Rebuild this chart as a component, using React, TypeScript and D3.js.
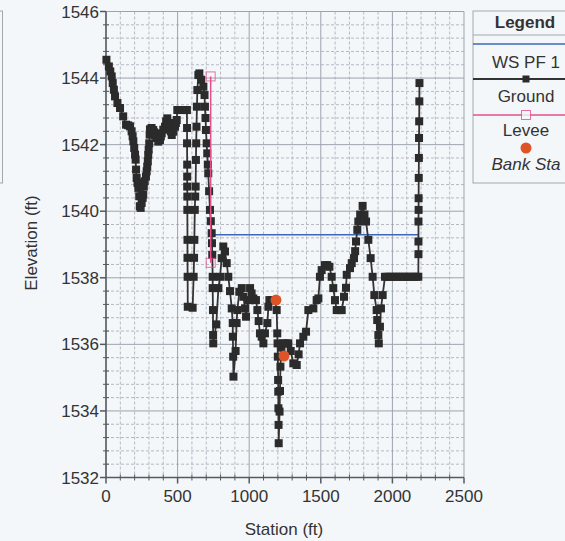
import React from "react";
import * as d3 from "d3";

// Cross section: station (ft) and ground elevation (ft)
const groundStation = [
  3, 20, 30, 40, 47, 55, 63, 80, 98, 120, 140, 155, 168, 179, 186, 191, 197, 203, 207, 210, 214, 220, 226, 232, 236, 242,
  249, 256, 260, 264, 270, 279, 284, 288, 292, 295, 298, 302, 305, 307, 318, 330, 336, 342, 352, 365, 377, 383, 389, 400,
  412, 420, 428, 437, 447, 453, 459, 470, 482, 488, 494, 498, 512, 528, 545, 560, 565, 566, 566, 567, 567, 567, 568, 568,
  569, 569, 570, 571, 605, 612, 615, 617, 620, 623, 626, 628, 630, 632, 635, 638, 645, 652, 665, 680, 688, 691, 695, 698,
  703, 707, 711, 714, 720, 726, 732, 738, 740, 742, 745, 745, 747, 748, 749, 770, 785, 796, 808, 819, 831, 843, 854, 866,
  878, 885, 886, 888, 890, 905, 912, 917, 931, 948, 959, 971, 978, 994, 1006, 1017, 1029, 1047, 1057, 1066, 1075, 1087,
  1099, 1110, 1127, 1134, 1141, 1160, 1180, 1192, 1196, 1198, 1200, 1202, 1203, 1204, 1205, 1206, 1212, 1215, 1218, 1225,
  1238, 1255, 1273, 1290, 1308, 1332, 1345, 1355, 1378, 1397, 1413, 1448, 1471, 1483, 1494, 1506, 1529, 1545, 1560, 1576,
  1587, 1599, 1611, 1634, 1646, 1662, 1676, 1681, 1704, 1716, 1732, 1740, 1746, 1755, 1762, 1775, 1792, 1805, 1816, 1832,
  1848, 1862, 1874, 1890, 1894, 1902, 1905, 1913, 1920, 1932, 1948, 1965, 1985, 2005, 2025, 2045, 2065, 2085, 2105, 2125,
  2145, 2165, 2181, 2182, 2182, 2182, 2183, 2183, 2184, 2185, 2186, 2187, 2188, 2189,
];
const groundElevation = [
  1544.55, 1544.35, 1544.2, 1544.05, 1543.85, 1543.65, 1543.45, 1543.25, 1543.1, 1542.85, 1542.6, 1542.58, 1542.55,
  1542.4, 1542.25, 1542.1, 1541.9, 1541.7, 1541.55, 1541.25, 1541.0, 1540.85, 1540.7, 1540.45, 1540.15, 1540.1,
  1540.25, 1540.4, 1540.5, 1540.74, 1540.9, 1541.04, 1541.2, 1541.34, 1541.5, 1541.69, 1541.85, 1542.04, 1542.3,
  1542.46, 1542.5, 1542.44, 1542.37, 1542.29, 1542.2, 1542.09, 1542.14, 1542.25, 1542.34, 1542.45, 1542.54, 1542.7,
  1542.79, 1542.65, 1542.54, 1542.4, 1542.29, 1542.39, 1542.54, 1542.65, 1542.74, 1543.04, 1543.04, 1543.04, 1543.04,
  1543.04, 1543.04, 1542.5, 1542.04, 1541.4, 1541.04, 1540.74, 1540.44, 1540.04, 1539.14, 1538.6, 1538.03, 1537.13,
  1537.1, 1538.03, 1538.6, 1539.14, 1540.04, 1540.44, 1540.74, 1541.54, 1542.04, 1542.54, 1543.14, 1543.64, 1544.09,
  1544.14, 1543.95, 1543.74, 1543.49, 1543.14, 1542.8, 1542.44, 1542.04, 1541.74, 1541.4, 1541.14, 1540.6, 1540.04,
  1539.7, 1539.34, 1539.04, 1538.69, 1538.03, 1537.69, 1537.03, 1536.28, 1536.03, 1536.6, 1537.69, 1538.03, 1538.59,
  1538.94, 1538.79, 1538.44, 1538.03, 1537.6, 1537.08, 1536.64, 1536.23, 1535.63, 1535.03, 1535.8, 1536.64, 1537.03,
  1537.58, 1537.69, 1537.43, 1537.08, 1536.83, 1537.33, 1537.69, 1537.53, 1537.38, 1537.33, 1537.03, 1536.7, 1536.33,
  1536.23, 1536.03, 1536.33, 1536.64, 1537.13, 1537.33, 1537.33, 1537.33, 1537.03, 1536.33, 1536.03, 1535.63, 1534.93,
  1534.58, 1534.08, 1533.58, 1533.03, 1533.98, 1534.6, 1535.33, 1535.9, 1536.03, 1536.03, 1536.03, 1535.8, 1535.43,
  1535.38, 1535.7, 1536.03, 1536.23, 1536.38, 1537.03, 1537.08, 1537.33, 1537.38, 1538.03, 1538.23, 1538.38, 1538.38,
  1538.33, 1538.03, 1537.69, 1537.33, 1537.03, 1537.03, 1537.03, 1537.43, 1537.7, 1538.09, 1538.29, 1538.44, 1538.59,
  1538.8, 1539.09, 1539.44, 1539.69, 1539.9, 1540.16, 1539.9, 1539.69, 1539.14, 1538.59, 1538.03, 1537.48, 1537.03,
  1536.73, 1536.28, 1536.03, 1536.53, 1537.08, 1537.48, 1538.03, 1538.03, 1538.03, 1538.03, 1538.03, 1538.03, 1538.03,
  1538.03, 1538.03, 1538.03, 1538.03, 1538.03, 1538.03, 1538.71, 1539.09, 1539.69, 1540.04, 1540.39, 1541.0, 1541.6,
  1542.2, 1542.7, 1543.3, 1543.85,
];

// Water surface, profile PF 1
const wsStation = [735, 2181];
const wsElevation = [1539.29, 1539.29];

// Left levee
const leveeStation = [731, 731];
const leveeElevation = [1538.45, 1544.05];

// Bank stations
const bankStation = [1187, 1243];
const bankElevation = [1537.33, 1535.65];

const xTicks = [0, 500, 1000, 1500, 2000, 2500];
const yTicks = [1532, 1534, 1536, 1538, 1540, 1542, 1544, 1546];

const legendLabels = ["WS PF 1", "Ground", "Levee", "Bank Sta"];

const FONT = "'Liberation Sans', Arial, Helvetica, sans-serif";
const BG = "#f4f7fa";
const INK = "#333333";
const WS_BLUE = "#3d68b8";
const LEVEE_PINK = "#e2508e";
const BANK_ORANGE = "#de5427";
const MAJOR_GRID = "#9da3ad";
const MINOR_GRID = "#b4b9c2";
const MARK = 8;

export default function App() {
  const width = 565;
  const height = 541;

  const x = d3.scaleLinear().domain([0, 2500]).range([106, 464]);
  const y = d3.scaleLinear().domain([1532, 1546]).range([477.5, 11.5]);

  const ground = groundStation.map((s, i) => [s, groundElevation[i]] as [number, number]);
  const ws = wsStation.map((s, i) => [s, wsElevation[i]] as [number, number]);
  const levee = leveeStation.map((s, i) => [s, leveeElevation[i]] as [number, number]);
  const bank = bankStation.map((s, i) => [s, bankElevation[i]] as [number, number]);

  const line = d3
    .line<[number, number]>()
    .x((d) => x(d[0]))
    .y((d) => y(d[1]));

  const xMinor = d3.range(0, 2501, 100).filter((v) => v % 500 !== 0);
  const yMinor = d3
    .range(0, 35)
    .map((i) => 1532 + i * 0.4)
    .filter((v) => Math.abs(v - Math.round(v / 2) * 2) > 0.01 && v < 1546);
  const [x0, x1] = x.range();
  const [yb, yt] = y.range();

  const legendX = 473;
  const legendCx = 526;
  const legendRows = [44, 79, 115, 148];

  return (
    <svg
      width={width}
      height={height}
      style={{ position: "absolute", left: 0, top: 0, background: BG }}
      fontFamily={FONT}
    >
      <rect x={0} y={0} width={width} height={height} fill={BG} />

      {/* neighbouring panel edge */}
      <rect x={-20} y={11} width={22.5} height={172} fill="none" stroke="#a3a7ad" strokeWidth={1} />

      {/* minor grid */}
      <g stroke={MINOR_GRID} strokeWidth={1} strokeDasharray="3,2">
        {xMinor.map((v) => (
          <line key={"xm" + v} x1={x(v)} x2={x(v)} y1={yt} y2={yb} />
        ))}
        {yMinor.map((v) => (
          <line key={"ym" + v} x1={x0} x2={x1} y1={y(v)} y2={y(v)} />
        ))}
      </g>

      {/* major grid */}
      <g stroke={MAJOR_GRID} strokeWidth={1}>
        {xTicks.map((v) => (
          <line key={"xg" + v} x1={x(v)} x2={x(v)} y1={yt} y2={yb} />
        ))}
        {yTicks.map((v) => (
          <line key={"yg" + v} x1={x0} x2={x1} y1={y(v)} y2={y(v)} />
        ))}
      </g>

      {/* axes */}
      <g stroke="#555a61" strokeWidth={1.5}>
        <line x1={x0} x2={x0} y1={yt} y2={yb} />
        <line x1={x0} x2={x1} y1={yb} y2={yb} />
        {yTicks.map((v) => (
          <line key={"yt" + v} x1={x0 - 6} x2={x0} y1={y(v)} y2={y(v)} />
        ))}
        {xTicks.map((v) => (
          <line key={"xt" + v} x1={x(v)} x2={x(v)} y1={yb} y2={yb + 6} />
        ))}
      </g>
      <g stroke="#555a61" strokeWidth={1}>
        {yMinor.map((v) => (
          <line key={"ytm" + v} x1={x0 - 3} x2={x0 + 3} y1={y(v)} y2={y(v)} />
        ))}
        {xMinor.map((v) => (
          <line key={"xtm" + v} x1={x(v)} x2={x(v)} y1={yb - 3} y2={yb + 3} />
        ))}
      </g>

      {/* tick labels */}
      <g fill={INK} fontSize={17}>
        {yTicks.map((v) => (
          <text key={"yl" + v} x={99} y={y(v) + 6} textAnchor="end">
            {v}
          </text>
        ))}
        {xTicks.map((v) => (
          <text key={"xl" + v} x={x(v)} y={502} textAnchor="middle">
            {v}
          </text>
        ))}
      </g>

      {/* axis titles */}
      <text x={284} y={535} textAnchor="middle" fontSize={17} fill={INK}>
        Station (ft)
      </text>
      <text transform={`translate(37,243) rotate(-90)`} textAnchor="middle" fontSize={17} fill={INK}>
        Elevation (ft)
      </text>

      {/* water surface */}
      <path d={line(ws) || ""} fill="none" stroke={WS_BLUE} strokeWidth={1.5} />

      {/* ground */}
      <path d={line(ground) || ""} fill="none" stroke={INK} strokeWidth={1.8} />
      <g fill="#2b2b2b">
        {ground.map((d, i) => (
          <rect key={"g" + i} x={x(d[0]) - MARK / 2} y={y(d[1]) - MARK / 2} width={MARK} height={MARK} />
        ))}
      </g>

      {/* levee */}
      <path d={line(levee) || ""} fill="none" stroke={LEVEE_PINK} strokeWidth={1.5} />
      {levee.map((d, i) => (
        <rect
          key={"l" + i}
          x={x(d[0]) - 4.5}
          y={y(d[1]) - 4.5}
          width={9}
          height={9}
          fill="none"
          stroke={LEVEE_PINK}
          strokeWidth={1}
          opacity={0.8}
        />
      ))}

      {/* bank stations */}
      {bank.map((d, i) => (
        <circle key={"b" + i} cx={x(d[0])} cy={y(d[1])} r={5.5} fill={BANK_ORANGE} />
      ))}

      {/* legend */}
      <g>
        <rect x={legendX} y={11} width={120} height={172} fill={BG} stroke="#a3a7ad" strokeWidth={1} />
        <line x1={legendX} x2={width} y1={35} y2={35} stroke="#a3a7ad" strokeWidth={1} />
        <text x={legendCx - 1} y={28} textAnchor="middle" fontSize={17} fontWeight="bold" fill={INK}>
          Legend
        </text>

        <line x1={legendX} x2={width} y1={legendRows[0]} y2={legendRows[0]} stroke={WS_BLUE} strokeWidth={1.5} />
        <text x={legendCx} y={68} textAnchor="middle" fontSize={17} fill={INK}>
          {legendLabels[0]}
        </text>

        <line x1={legendX} x2={width} y1={legendRows[1]} y2={legendRows[1]} stroke={INK} strokeWidth={1.8} />
        <rect x={legendCx - 3.5} y={legendRows[1] - 3.5} width={7} height={7} fill="#2b2b2b" />
        <text x={legendCx} y={102} textAnchor="middle" fontSize={17} fill={INK}>
          {legendLabels[1]}
        </text>

        <line x1={legendX} x2={width} y1={legendRows[2]} y2={legendRows[2]} stroke={LEVEE_PINK} strokeWidth={1.5} />
        <rect
          x={legendCx - 4.5}
          y={legendRows[2] - 4.5}
          width={9}
          height={9}
          fill={BG}
          stroke={LEVEE_PINK}
          strokeWidth={1}
          opacity={0.8}
        />
        <text x={legendCx} y={136} textAnchor="middle" fontSize={17} fill={INK}>
          {legendLabels[2]}
        </text>

        <circle cx={legendCx} cy={legendRows[3]} r={5.5} fill={BANK_ORANGE} />
        <text x={legendCx} y={170} textAnchor="middle" fontSize={17} fontStyle="italic" fill={INK}>
          {legendLabels[3]}
        </text>
      </g>
    </svg>
  );
}
